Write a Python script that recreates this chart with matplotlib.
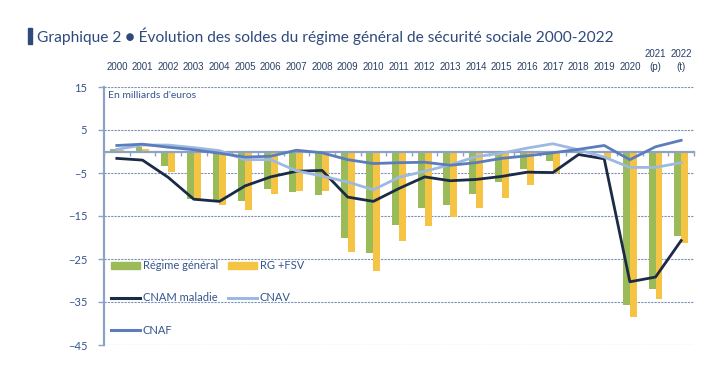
import matplotlib
matplotlib.use("Agg")
import matplotlib.pyplot as plt
from matplotlib.patches import Patch
from matplotlib.lines import Line2D
from matplotlib import font_manager
import numpy as np

# --- data (milliards d'euros) ---
years = ["2000", "2001", "2002", "2003", "2004", "2005", "2006", "2007", "2008",
         "2009", "2010", "2011", "2012", "2013", "2014", "2015", "2016", "2017",
         "2018", "2019", "2020", "2021\n(p)", "2022\n(t)"]
regime_general = [0.6, 1.1, -3.4, -11.0, -11.3, -11.6, -8.7, -9.4, -10.0,
                  -20.2, -23.7, -17.2, -13.1, -12.4, -9.8, -7.0, -4.1, -2.1,
                  0.5, -0.4, -35.8, -31.9, -19.7]
rg_fsv = [0.3, 0.6, -4.8, -11.2, -12.5, -13.5, -9.9, -9.3, -9.3,
          -23.3, -27.8, -20.7, -17.4, -15.3, -13.1, -10.7, -7.7, -5.0,
          -0.3, -1.6, -38.4, -34.2, -21.3]
cnam = [-1.6, -2.0, -6.0, -11.1, -11.6, -8.0, -5.9, -4.6, -4.4,
        -10.6, -11.6, -8.6, -5.9, -6.8, -6.5, -5.8, -4.8, -4.9,
        -0.7, -1.7, -30.3, -29.2, -20.7]
cnav = [0.5, 1.5, 1.5, 0.9, 0.2, -1.9, -1.9, -4.5, -5.7,
        -7.1, -8.9, -6.0, -4.6, -3.1, -1.2, -0.4, 0.8, 1.8,
        0.4, -1.3, -3.7, -3.7, -2.6]
cnaf = [1.4, 1.7, 1.0, 0.4, -0.4, -1.3, -1.1, 0.3, -0.3,
        -1.9, -2.8, -2.6, -2.5, -3.2, -2.6, -1.6, -1.0, -0.3,
        0.5, 1.4, -1.9, 1.1, 2.6]

GREEN = "#9bbb59"
YELLOW = "#f6c444"
NAVY = "#1b2a45"
LIGHT = "#9db9e2"
MID = "#5b7dbd"
TXT = "#34558c"
GRID = "#7d90b6"

names = {f.name for f in font_manager.fontManager.ttflist}
narrow = "Liberation Sans Narrow" if "Liberation Sans Narrow" in names else "Liberation Sans"
plt.rcParams['font.family'] = ['Lato', 'DejaVu Sans']

fig = plt.figure(figsize=(7.25, 3.65), dpi=100)
ax = fig.add_axes([104 / 725, 20 / 365, 590 / 725, 258 / 365])

x = np.arange(len(years))
w = 0.27
ax.bar(x - w / 2, regime_general, w, color=GREEN, zorder=2)
ax.bar(x + w / 2, rg_fsv, w, color=YELLOW, zorder=2)

ax.plot(x, cnam, color=NAVY, lw=2.0, zorder=3)
ax.plot(x, cnav, color=LIGHT, lw=2.0, zorder=4)
ax.plot(x, cnaf, color=MID, lw=2.0, zorder=5)

ax.set_xlim(-0.5, len(years) - 0.5)
ax.set_ylim(-45, 15)
ax.set_yticks([15, 5, -5, -15, -25, -35, -45])
ax.yaxis.grid(True, color=GRID, lw=0.8, ls=(0, (2, 1)))
ax.set_axisbelow(True)

for s in ["top", "right"]:
    ax.spines[s].set_visible(False)
ax.spines["left"].set_color("#8ea2c8")
ax.spines["left"].set_linewidth(1.6)
ax.spines["bottom"].set_position(("data", 0))
ax.spines["bottom"].set_color("#8ea2c8")
ax.spines["bottom"].set_linewidth(1.6)
ax.spines["bottom"].set_zorder(2.5)
ax.set_xticks(np.arange(-0.5, len(years), 1.0))
ax.tick_params(axis="x", direction="out", length=3, width=1, color="#8ea2c8",
               labelbottom=False)
ax.tick_params(axis="y", direction="out", length=4, width=1, color="#8ea2c8",
               labelsize=8, labelcolor=TXT, pad=8)

# year labels on top
for xi, lab in zip(x, years):
    ax.text(xi, 1.058, lab, transform=ax.get_xaxis_transform(), ha="center",
            va="bottom", fontsize=7, color="#2a3f66", family=narrow,
            linespacing=1.35)

ax.text(0.007, 0.985, "En milliards d'euros", transform=ax.transAxes,
        fontsize=7.5, color=TXT, va="top", ha="left")

handles = [Patch(color=GREEN), Line2D([], [], color=NAVY, lw=2.2),
           Line2D([], [], color=MID, lw=2.2), Patch(color=YELLOW),
           Line2D([], [], color=LIGHT, lw=2.2)]
labels = ["Régime général", "CNAM maladie", "CNAF", "RG +FSV", "CNAV"]
leg = ax.legend(handles, labels, ncol=2, loc="upper left",
                bbox_to_anchor=(-0.005, 0.367), frameon=False, fontsize=8,
                handlelength=2.6, handleheight=0.6, handletextpad=0.25,
                labelspacing=1.9, columnspacing=0.9)
for t in leg.get_texts():
    t.set_color(TXT)

# title with bar
fig.patches.append(plt.Rectangle((28 / 725, 1 - 44 / 365), 4 / 725, 16 / 365,
                                 transform=fig.transFigure, color="#2e4a7c"))
fig.text(37 / 725, 1 - 36 / 365, "Graphique 2 \u25cf \u00c9volution des soldes du r\u00e9gime g\u00e9n\u00e9ral de s\u00e9curit\u00e9 sociale 2000-2022",
         fontsize=11.2, color="#2e4a7c", va="center", ha="left")

fig.savefig("out.png", dpi=100)
